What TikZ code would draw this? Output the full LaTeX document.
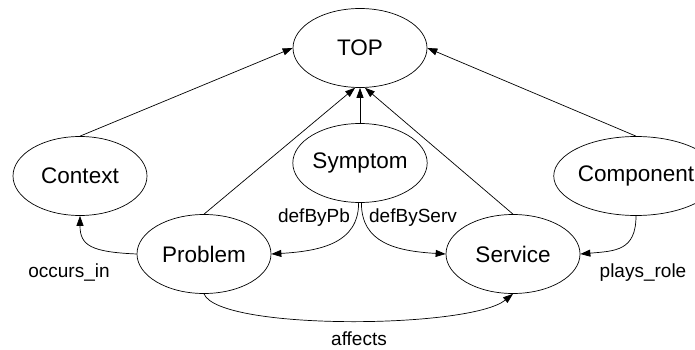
\documentclass[tikz,border=0pt]{standalone}
\usepackage{fontspec}
\setmainfont{Liberation Sans}
\usetikzlibrary{arrows.meta,shapes.geometric}
\begin{document}
\begin{tikzpicture}[x=1pt,y=-1pt,
  cls/.style={draw, line width=0.7pt, ellipse, minimum width=134pt, minimum height=79pt, inner sep=0pt, font=\fontsize{22.5}{26}\selectfont},
  lbl/.style={font=\fontsize{19}{22}\selectfont, inner sep=0pt},
  rel/.style={draw, line width=0.7pt, -{Triangle[length=10pt,width=7pt]}}]
\useasboundingbox (0,0) rectangle (695,350);
\clip (0,0) rectangle (695,350);
\node[cls] (top)  at (360,48)  {TOP};
\node[cls] (ctx)  at (80,176)  {Context};
\node[cls] (symp) at (360,163) {Symptom};
\node[cls] (comp) at (636,176) {Component};
\node[cls] (prob) at (204,254) {Problem};
\node[cls] (serv) at (513,254) {Service};

\draw[rel] (ctx.north) -- (top.west);
\draw[rel] (comp.north) -- (top.east);
\draw[rel] (prob.north) -- (top.-97);
\draw[rel] (symp.north) -- (top.south);
\draw[rel] (serv.north) -- (top.-83);

\draw[rel] (prob.west) .. controls +(-45,-2) and +(0,30) .. (ctx.south);
\draw[rel] (symp.-92) .. controls +(0,40) and +(50,-3) .. (prob.east);
\draw[rel] (symp.-88) .. controls +(0,40) and +(-50,-3) .. (serv.west);
\draw[rel] (comp.south) .. controls +(0,35) and +(35,-3) .. (serv.east);
\draw[rel] (prob.south) .. controls +(15,37) and +(-43,35) .. (serv.south);

\node[lbl] (l1) at (69,273)  {occurs\_in};
\node[lbl] (l2) at (314,218) {defByPb};
\node[lbl] (l3) at (413,218) {defByServ};
\node[lbl] (l4) at (643,273) {plays\_role};
\node[lbl] (l5) at (359,339) {affects};
\end{tikzpicture}
\end{document}
